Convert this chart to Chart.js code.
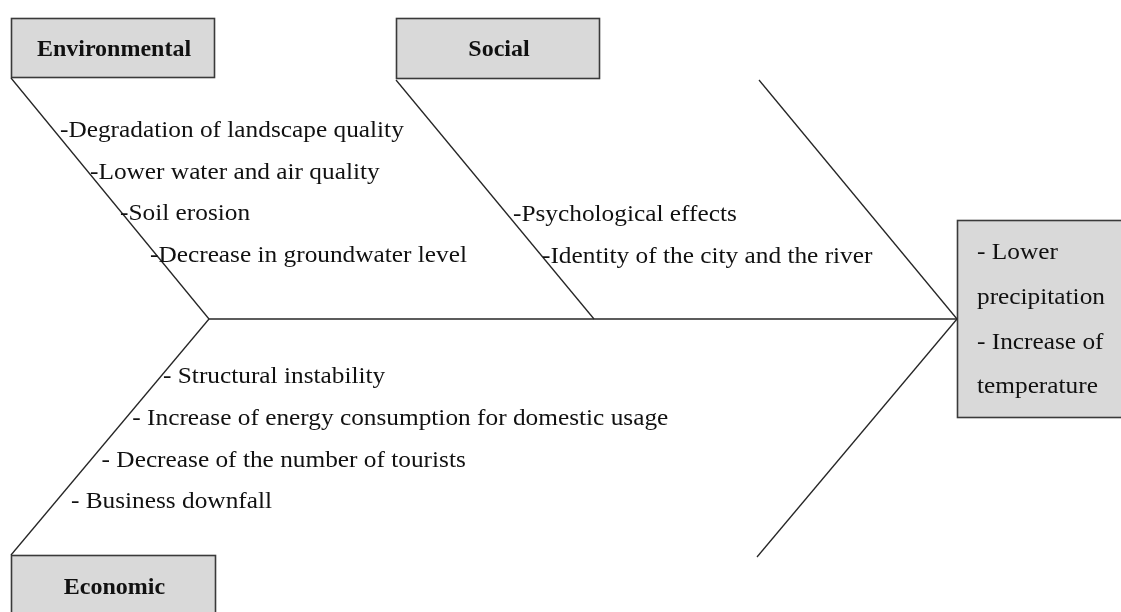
<!DOCTYPE html>
<html>
<head>
<meta charset="utf-8">
<script src="https://cdn.jsdelivr.net/npm/chart.js@4.4.1/dist/chart.umd.min.js"></script>
<style>
  html, body { margin: 0; padding: 0; background: #fff; }
  #wrap { width: 1121px; height: 612px; }
</style>
</head>
<body>
<div id="wrap"><canvas id="fishbone" width="1121" height="612"></canvas></div>
<script>
// fishbone: causes of a lower river level, grouped in three branches
const categories = ['Environmental', 'Social', 'Economic'];
const envCauses = ['-Degradation of landscape quality', '-Lower water and air quality', '-Soil erosion', '-Decrease in groundwater level'];
const socialCauses = ['-Psychological effects', '-Identity of the city and the river'];
const econCauses = ['- Structural instability', '- Increase of energy consumption for domestic usage', '- Decrease of the number of tourists', '- Business downfall'];
const effectLines = ['- Lower', 'precipitation', '- Increase of', 'temperature'];

// bones in diagram units (x right, y down)
const spine = [[209, 319], [957, 319]];
const envBone = [[11, 78], [209, 319]];
const socialBone = [[396, 80], [594, 319]];
const upperBone = [[759, 80], [957, 319]];
const econBone = [[11, 555], [209, 319]];
const lowerBone = [[757, 557], [957, 319]];

// boxes: [x0, y0, x1, y1]
const envBox = [11, 18, 215, 78];
const socialBox = [396, 18, 600, 79];
const econBox = [11, 555, 216, 621];
const effectBox = [957, 220, 1126, 418];

// label anchors: [x, y] of first line, then row step
const envStart = [60, 131], envStep = [30, 41.5];
const socialStart = [513, 215], socialStep = [29, 42];
const econStart = [163, 377], econStep = [-30.7, 41.7];
const effectStart = [977, 253], effectStep = [0, 44.7];

const LINE = '#262626';
const pts = seg => seg.map(([x, y]) => ({ x, y }));
const bone = seg => ({
  data: pts(seg), showLine: true, borderColor: LINE, borderWidth: 1.3,
  pointRadius: 0, fill: false, tension: 0
});

const boxesPlugin = {
  id: 'boxes',
  beforeDatasetsDraw(chart) {
    const { ctx, scales: { x, y } } = chart;
    ctx.save();
    [envBox, socialBox, econBox, effectBox].forEach(b => {
      const x0 = x.getPixelForValue(b[0]), y0 = y.getPixelForValue(b[1]);
      const x1 = x.getPixelForValue(b[2]), y1 = y.getPixelForValue(b[3]);
      ctx.fillStyle = '#d9d9d9';
      ctx.fillRect(x0, y0, x1 - x0, y1 - y0);
      ctx.strokeStyle = '#3a3a3a';
      ctx.lineWidth = 1.6;
      ctx.strokeRect(x0 + 0.5, y0 + 0.5, x1 - x0 - 1, y1 - y0 - 1);
    });
    ctx.restore();
  },
  afterDatasetsDraw(chart) {
    const { ctx, scales: { x, y } } = chart;
    ctx.save();
    ctx.fillStyle = '#111';
    ctx.textBaseline = 'middle';

    // branch titles
    ctx.font = 'bold 24px "Liberation Serif", serif';
    ctx.textAlign = 'center';
    const titleY = [50, 50, 588];
    [envBox, socialBox, econBox].forEach((b, i) => {
      ctx.fillText(categories[i], x.getPixelForValue((b[0] + b[2]) / 2 + 1), y.getPixelForValue(titleY[i]));
    });

    // cause lists, slightly widened to match the book face of the original
    ctx.font = '24px "Liberation Serif", serif';
    ctx.textAlign = 'left';
    const stretch = 1.055;
    const list = (items, start, step) => items.forEach((t, i) => {
      const px = x.getPixelForValue(start[0] + step[0] * i);
      const py = y.getPixelForValue(start[1] + step[1] * i);
      ctx.save();
      ctx.translate(px, py);
      ctx.scale(stretch, 1);
      ctx.fillText(t, 0, 0);
      ctx.restore();
    });
    list(envCauses, envStart, envStep);
    list(socialCauses, socialStart, socialStep);
    list(econCauses, econStart, econStep);
    list(effectLines, effectStart, effectStep);
    ctx.restore();
  }
};

new Chart(document.getElementById('fishbone'), {
  type: 'scatter',
  data: {
    datasets: [spine, envBone, socialBone, upperBone, econBone, lowerBone].map(bone)
  },
  options: {
    responsive: false,
    animation: false,
    layout: { padding: 0 },
    plugins: { legend: { display: false }, tooltip: { enabled: false } },
    scales: {
      x: { type: 'linear', min: 0, max: 1121, display: false },
      y: { type: 'linear', min: 0, max: 612, reverse: true, display: false }
    }
  },
  plugins: [boxesPlugin]
});
</script>
</body>
</html>
